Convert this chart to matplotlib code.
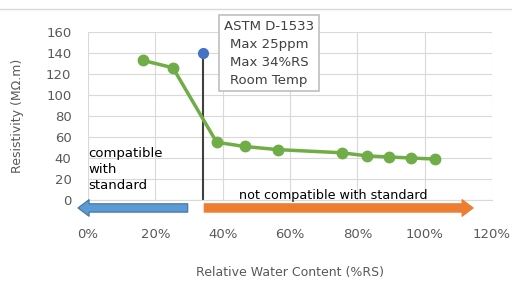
import matplotlib.pyplot as plt
from matplotlib.ticker import FuncFormatter

# data
rwc = [16.3, 25.2, 38.2, 46.5, 56.3, 75.3, 83.0, 89.5, 96.0, 103.0]
resistivity = [133, 126, 55, 51, 48, 45, 42, 41, 40, 39]
limit_x = 34
limit_y = 140
xticks = [0, 20, 40, 60, 80, 100, 120]
yticks = [0, 20, 40, 60, 80, 100, 120, 140, 160]
box_text = "ASTM D-1533\nMax 25ppm\nMax 34%RS\nRoom Temp"

grey = "#595959"
fig = plt.figure(figsize=(5.12, 2.89), dpi=100)
ax = fig.add_axes([0.172, 0.308, 0.789, 0.581])

ax.plot(rwc, resistivity, color="#70AD47", lw=2.5, marker="o", ms=7.5, zorder=3)
ax.plot([limit_x, limit_x], [0, limit_y], color="#404040", lw=1.5, zorder=2)
ax.plot([limit_x], [limit_y], "o", color="#4472C4", ms=7, zorder=4)

ax.set_xlim(0, 120)
ax.set_ylim(0, 160)
ax.set_xticks(xticks)
ax.set_yticks(yticks)
ax.xaxis.set_major_formatter(FuncFormatter(lambda v, p: f"{v:.0f}%"))
ax.grid(True, color="#D9D9D9", lw=0.8)
ax.set_axisbelow(True)
for s in ["top", "right", "left"]:
    ax.spines[s].set_visible(False)
ax.spines["bottom"].set_color("#D9D9D9")
ax.tick_params(length=0, colors=grey, labelsize=9.5)
ax.tick_params(axis="x", pad=20)
ax.tick_params(axis="y", pad=12)

ax.set_xlabel("Relative Water Content (%RS)", color=grey, fontsize=9, labelpad=18)
ax.set_ylabel("Resistivity (MΩ.m)", color=grey, fontsize=9, labelpad=16)

# arrows below the axis
ax.annotate("", xy=(-3, -7.6), xytext=(29.6, -7.6), annotation_clip=False,
            arrowprops=dict(arrowstyle="simple,head_length=0.8,head_width=1.2,tail_width=0.6",
                            mutation_scale=10, fc="#5B9BD5", ec="#41719C", lw=0.8,
                            shrinkA=0, shrinkB=0))
ax.annotate("", xy=(114.4, -7.6), xytext=(34.5, -7.6), annotation_clip=False,
            arrowprops=dict(arrowstyle="simple,head_length=0.8,head_width=1.2,tail_width=0.6",
                            mutation_scale=10, fc="#ED7D31", ec="#ED7D31", lw=0.8,
                            shrinkA=0, shrinkB=0))

ax.text(0, 29, "compatible\nwith\nstandard", fontsize=9.5, color="black",
        va="center", ha="left", linespacing=1.3)
ax.text(72.9, 4.2, "not compatible with standard", fontsize=9.2, color="black",
        va="center", ha="center")

ax.text(53.8, 140, box_text, fontsize=9.5, color="#404040", ha="center", va="center",
        linespacing=1.5, zorder=5,
        bbox=dict(boxstyle="square,pad=0.35", fc="white", ec="#BFBFBF", lw=1.2))

fig.add_artist(plt.Line2D([0, 1], [0.968, 0.968], color="#D9D9D9", lw=1))

fig.savefig("out.png", dpi=100)
